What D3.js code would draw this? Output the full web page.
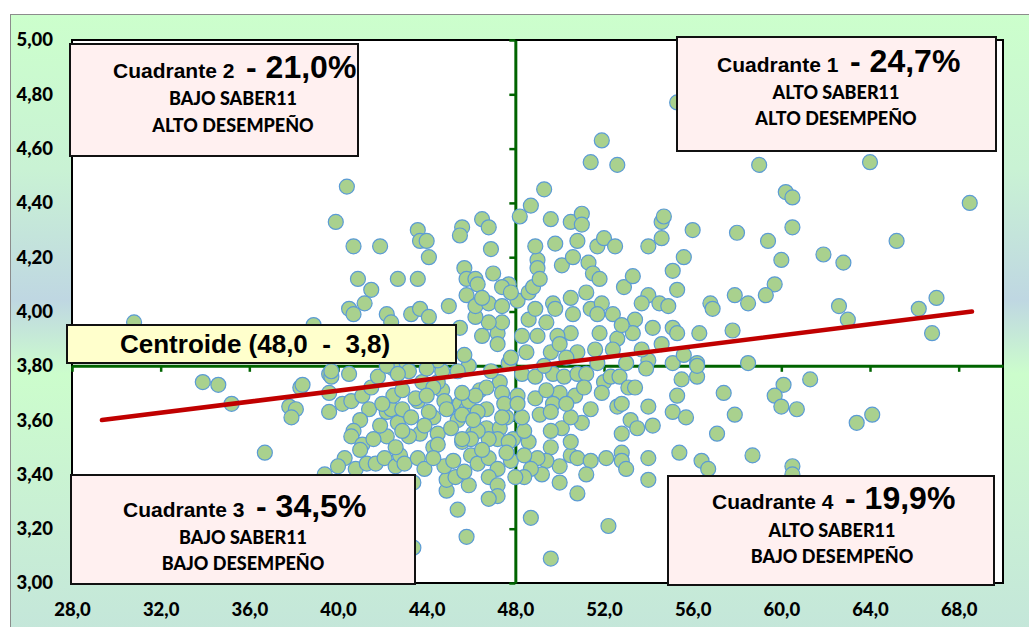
<!DOCTYPE html>
<html><head><meta charset="utf-8">
<script src="https://cdn.jsdelivr.net/npm/d3@7"></script>
<style>body{margin:0;background:#fff}svg{display:block}text{white-space:pre}</style>
</head><body><svg id="c" width="1029" height="627"></svg>
<script>
// ---------- DATA ----------
const xTicks = [28, 32, 36, 40, 44, 48, 52, 56, 60, 64, 68];
const yTicks = [3.0, 3.2, 3.4, 3.6, 3.8, 4.0, 4.2, 4.4, 4.6, 4.8, 5.0];
const centroid = [48.0, 3.8];
const trend = [[29.35, 3.60], [68.6, 4.00]];
const quadNames = ["Cuadrante 1", "Cuadrante 2", "Cuadrante 3", "Cuadrante 4"];
const quadPct = ["24,7%", "21,0%", "34,5%", "19,9%"];
const quadLine1 = ["ALTO SABER11", "BAJO SABER11", "BAJO SABER11", "ALTO SABER11"];
const quadLine2 = ["ALTO DESEMPEÑO", "ALTO DESEMPEÑO", "BAJO DESEMPEÑO", "BAJO DESEMPEÑO"];
const centroidLabel = "Centroide (48,0  -  3,8)";
const points = [
[55.3,4.77],[51.9,4.63],[51.4,4.55],[52.6,4.54],[49.3,4.45],[40.4,4.46],[39.9,4.33],[40.7,4.24],[41.9,4.24],[40.9,4.12],[42.7,4.12],[41.5,4.08],[41.2,4.03],[40.5,4.01],[40.7,3.99],[42.2,3.99],[42.4,3.96],[30.8,3.96],[38.9,3.95],[43.6,4.12],[43.3,3.99],[43.7,4.01],[44.1,3.98],[45.0,4.02],
[33.9,3.74],[34.6,3.73],[35.2,3.66],[38.3,3.72],[37.8,3.65],[38.1,3.64],[37.9,3.61],[36.7,3.48],[39.6,3.63],[39.6,3.77],[39.7,3.76],[40.5,3.77],[40.2,3.66],[40.6,3.67],[41.1,3.69],[41.4,3.64],[41.0,3.60],[40.7,3.56],[40.6,3.54],[41.1,3.51],[41.0,3.49],[42.2,3.54],[42.2,3.63],[42.4,3.64],[42.5,3.69],[41.5,3.72],[41.8,3.76],[42.5,3.79],[40.3,3.46],[40.0,3.43],[40.8,3.42],[41.3,3.44],[41.7,3.44],[42.1,3.46],[42.6,3.43],[42.8,3.47],[42.6,3.50],[42.7,3.59],[39.4,3.40],[38.4,3.73],[39.7,3.78],[39.6,3.70],[42.0,3.66],[42.9,3.64],[43.6,3.67],[44.3,3.61],[43.7,3.55],[43.2,3.54],[44.5,3.55],[44.7,3.71],[44.5,3.74],[42.2,3.80],[43.1,3.81],[43.8,3.74],[45.4,3.60],[45.0,3.65],[45.5,3.66],[45.8,3.64],[46.4,3.71],[46.7,3.64],[47.3,3.74],[47.4,3.70],[47.6,3.61],[46.1,3.55],[46.7,3.57],[47.3,3.57],[47.9,3.53],[47.2,3.53],[45.6,3.52],
[45.9,3.80],[47.7,3.81],[48.3,3.77],[48.9,3.76],[49.7,3.77],[50.2,3.76],[50.8,3.77],[51.2,3.77],[51.7,3.81],[52.0,3.74],[52.3,3.76],[53.0,3.81],[52.7,3.76],[53.1,3.72],[53.4,3.72],[54.0,3.82],[55.1,3.81],[56.2,3.81],[55.5,3.75],[56.2,3.76],[55.3,3.69],[55.1,3.63],[55.7,3.61],[54.0,3.65],[54.2,3.58],[52.6,3.65],[52.8,3.66],[53.2,3.60],[53.5,3.57],[52.8,3.55],[51.9,3.70],[51.4,3.64],[51.0,3.59],[50.7,3.69],[50.0,3.70],[49.7,3.66],[50.1,3.57],[50.5,3.61],[49.6,3.56],[50.5,3.47],[50.5,3.52],[50.8,3.46],[51.4,3.45],[52.1,3.46],[52.8,3.48],[52.8,3.45],[53.0,3.42],[54.0,3.46],[55.4,3.48],[56.4,3.45],[54.0,3.38],[51.2,3.40],[50.8,3.33],[50.0,3.37],[50.0,3.43],[49.6,3.50],[49.4,3.45],[49.0,3.46],[49.2,3.40],[48.7,3.42],[48.4,3.39],[48.0,3.39],[48.6,3.52],[48.4,3.56],[48.3,3.61],[49.1,3.62],[49.6,3.63],[47.5,3.66],[47.4,3.61],[48.1,3.69],[48.1,3.66],[46.7,3.72],[47.7,3.52],[47.8,3.45],[46.8,3.53],[46.3,3.56],[46.0,3.47],[46.3,3.44],[46.8,3.46],[47.2,3.42],[46.8,3.39],[47.2,3.36],[47.2,3.32],[46.8,3.31],[48.7,3.24],[49.6,3.09],[52.2,3.21],[45.8,3.17],[45.4,3.27],[45.9,3.36],[44.9,3.34],[44.9,3.38],[44.8,3.43],[45.3,3.39],[45.2,3.45],[46.0,3.53],[45.6,3.53],[44.3,3.50],[42.9,3.56],[43.0,3.44],[43.6,3.46],[43.4,3.37],[43.5,3.68],[44.3,3.72],[44.8,3.67],[44.9,3.64],[45.6,3.62],[45.9,3.67],[46.2,3.69],[44.5,3.51],[43.2,3.78],[42.7,3.77],[44.7,3.78],[45.4,3.78],[43.4,3.13],[46.3,3.63],[45.6,3.70],[56.2,3.80],
[48.7,4.39],[48.2,4.35],[49.6,4.34],[50.5,4.33],[51.0,4.36],[51.0,4.32],[43.6,4.30],[43.7,4.26],[44.0,4.26],[45.6,4.31],[45.5,4.28],[46.5,4.34],[46.8,4.31],[46.9,4.23],[44.1,4.20],[45.7,4.16],[45.8,4.12],[46.2,4.12],[46.3,4.10],[45.8,4.06],[47.0,4.14],[47.7,4.10],[47.4,4.09],[48.1,4.04],[47.8,4.07],[48.6,4.07],[48.8,4.09],[49.0,4.19],[49.0,4.16],[49.1,4.12],[48.9,4.24],[49.8,4.25],[50.1,4.17],[50.6,4.20],[50.8,4.26],[51.7,4.24],[52.0,4.27],[52.5,4.24],[51.3,4.18],[51.5,4.14],[51.8,4.12],[51.2,4.07],[50.5,4.05],[49.7,4.03],[49.8,4.01],[50.6,3.99],[51.4,4.01],[51.9,4.03],[51.7,3.99],[52.4,3.99],[52.9,4.09],[53.3,4.13],[54.0,4.24],[54.6,4.27],[54.6,4.33],[54.7,4.35],[56.0,4.30],[55.6,4.20],[55.1,4.15],[55.3,4.08],[54.0,4.06],[54.5,4.03],[54.9,4.02],[53.4,3.97],[54.2,3.94],[55.1,3.94],[55.3,3.92],[56.3,3.92],[56.8,4.03],[56.9,4.01],[53.3,3.92],[52.6,3.90],[51.8,3.92],[51.6,3.86],[50.8,3.85],[50.5,3.92],[49.9,3.91],[49.6,3.85],[49.0,3.91],[48.5,3.85],[48.3,3.91],[48.6,3.97],[47.8,3.83],[47.2,3.92],[47.2,3.88],[47.4,3.96],[46.8,3.96],[46.5,3.91],[46.2,3.98],[46.2,4.02],[46.8,4.03],[47.4,4.02],[46.5,4.05],[45.5,3.94],[44.5,3.82],[45.7,3.84],[55.6,3.84],
[59.0,4.54],[64.0,4.55],[60.2,4.44],[60.5,4.42],[68.5,4.40],[58.0,4.29],[60.5,4.31],[59.4,4.26],[65.2,4.26],[60.0,4.19],[61.9,4.21],[62.8,4.18],[59.7,4.10],[59.3,4.06],[57.9,4.06],[58.5,4.03],[62.6,4.02],[63.0,3.97],[66.2,4.01],[67.0,4.05],[66.8,3.92],[57.8,3.93],[58.5,3.81],[61.3,3.75],[60.1,3.73],[59.7,3.69],[60.0,3.65],[60.7,3.64],[57.4,3.70],[57.9,3.62],[57.1,3.55],[58.7,3.47],[60.5,3.43],[60.5,3.40],[63.4,3.59],[64.1,3.62],[56.7,3.42],
[44.1,3.63],[43.9,3.58],[45.1,3.57],[46.5,3.49],[47.6,3.48],[48.4,3.47],[44.0,3.69],[42.9,3.71],[43.3,3.61],[41.9,3.58],[41.6,3.53],[43.9,3.42],[44.3,3.46],[45.7,3.41],[46.1,3.60],[48.9,3.68],[49.4,3.71],[50.3,3.66],[51.1,3.72],[46.9,3.78],[44.0,3.79],[49.3,3.80],[50.3,3.83],[52.4,3.86],[53.7,3.86],[54.6,3.88],[53.9,3.79],[49.4,3.96],[50.0,3.88],[48.9,4.01],[52.8,3.95],[53.7,4.03]
];

// ---------- LAYOUT ----------
const plot = {l: 72, r: 1003, t: 40, b: 583};
const boxes = [
  {x: 677, y: 37, w: 319, h: 114, tx: 717, ty: 72, cx: 836, y1: 99, y2: 125},
  {x: 70, y: 44, w: 288, h: 112, tx: 113, ty: 78, cx: 233, y1: 105, y2: 132},
  {x: 71, y: 475, w: 344, h: 109, tx: 123, ty: 517, cx: 243, y1: 544, y2: 570},
  {x: 668, y: 476, w: 326, h: 109, tx: 712, ty: 509, cx: 832, y1: 537, y2: 563}
];
const cbox = {x: 67, y: 325, w: 389, h: 38, tx: 120, ty: 353};

const svg = d3.select("#c");
const defs = svg.append("defs");
const grad = defs.append("linearGradient").attr("id", "bg").attr("x1", 0).attr("x2", 0).attr("y1", 0).attr("y2", 1);
[["0%", "#ccffcc"], ["25%", "#c9f2d4"], ["46%", "#bfd7e2"], ["58%", "#ccfdcc"], ["80%", "#c9f0d4"], ["100%", "#c4e6da"]]
  .forEach(([o, c]) => grad.append("stop").attr("offset", o).attr("stop-color", c));

svg.append("rect").attr("x", 10.5).attr("y", 14.5).attr("width", 1030).attr("height", 620)
  .attr("fill", "url(#bg)").attr("stroke", "#8c8c8c").attr("stroke-width", 1);

const x = d3.scaleLinear().domain([28, 70]).range([plot.l, plot.r]);
const y = d3.scaleLinear().domain([3, 5]).range([plot.b, plot.t]);

svg.append("rect").attr("x", plot.l).attr("y", plot.t).attr("width", plot.r - plot.l).attr("height", plot.b - plot.t)
  .attr("fill", "#ffffff").attr("stroke", "#000").attr("stroke-width", 2);

const fmtX = d => d3.format(".1f")(d).replace(".", ",");
const fmtY = d => d3.format(".2f")(d).replace(".", ",");
const labelFont = "Lato, 'Open Sans', sans-serif";

// tick labels
const gx = svg.append("g").attr("transform", `translate(0,603)`)
  .call(d3.axisBottom(x).tickValues(xTicks).tickSize(0).tickPadding(0).tickFormat(fmtX));
gx.select(".domain").remove();
gx.selectAll("text").attr("font-family", labelFont).attr("font-weight", 900).attr("font-size", 18.5).attr("fill", "#000").attr("dy", "0.71em");

const gy = svg.append("g").attr("transform", `translate(53,0)`)
  .call(d3.axisLeft(y).tickValues(yTicks).tickSize(0).tickPadding(0).tickFormat(fmtY));
gy.select(".domain").remove();
gy.selectAll("text").attr("font-family", labelFont).attr("font-weight", 900).attr("font-size", 18.5).attr("fill", "#000");

// green crossing axes
const green = "#006400";
const ax = svg.append("g").attr("transform", `translate(0,${y(centroid[1])})`)
  .call(d3.axisBottom(x).tickValues(xTicks).tickSizeInner(6).tickSizeOuter(0).tickFormat(""));
ax.select(".domain").attr("stroke", green).attr("stroke-width", 3);
ax.selectAll(".tick line").attr("stroke", green).attr("stroke-width", 2.5);
const ay = svg.append("g").attr("transform", `translate(${x(centroid[0])},0)`)
  .call(d3.axisLeft(y).tickValues(yTicks).tickSizeInner(6).tickSizeOuter(0).tickFormat(""));
ay.select(".domain").attr("stroke", green).attr("stroke-width", 3);
ay.selectAll(".tick line").attr("stroke", green).attr("stroke-width", 2.5);

// points
svg.append("g").selectAll("circle").data(points).join("circle")
  .attr("cx", d => x(d[0])).attr("cy", d => y(d[1])).attr("r", 7.5)
  .attr("fill", "#a9d18e").attr("stroke", "#5b9bd5").attr("stroke-width", 1.2);

// trend line
svg.append("path").datum(trend)
  .attr("d", d3.line().x(d => x(d[0])).y(d => y(d[1])))
  .attr("stroke", "#c00000").attr("stroke-width", 4.5).attr("fill", "none").attr("stroke-linecap", "round");

// quadrant boxes
const arial = "'Liberation Sans', Arial, sans-serif";
boxes.forEach((b, i) => {
  const g = svg.append("g");
  g.append("rect").attr("x", b.x).attr("y", b.y).attr("width", b.w).attr("height", b.h)
    .attr("fill", "#fff0f0").attr("stroke", "#111").attr("stroke-width", 2);
  const t = g.append("text").attr("x", b.tx).attr("y", b.ty).attr("font-family", arial).attr("font-weight", 700).attr("fill", "#000");
  t.append("tspan").attr("font-size", 21).text(quadNames[i] + "  ");
  t.append("tspan").attr("font-size", 32).text("- " + quadPct[i]);
  g.append("text").attr("x", b.cx).attr("y", b.y1).attr("text-anchor", "middle").attr("font-family", labelFont)
    .attr("font-weight", 900).attr("font-size", 18).attr("fill", "#000").text(quadLine1[i]);
  g.append("text").attr("x", b.cx).attr("y", b.y2).attr("text-anchor", "middle").attr("font-family", labelFont)
    .attr("font-weight", 900).attr("font-size", 18).attr("fill", "#000").text(quadLine2[i]);
});

// centroid box
svg.append("rect").attr("x", cbox.x).attr("y", cbox.y).attr("width", cbox.w).attr("height", cbox.h)
  .attr("fill", "#ffffcc").attr("stroke", "#111").attr("stroke-width", 2);
svg.append("text").attr("x", cbox.tx).attr("y", cbox.ty).attr("font-family", arial).attr("font-weight", 700)
  .attr("font-size", 26).attr("fill", "#000").text(centroidLabel);
</script></body></html>
